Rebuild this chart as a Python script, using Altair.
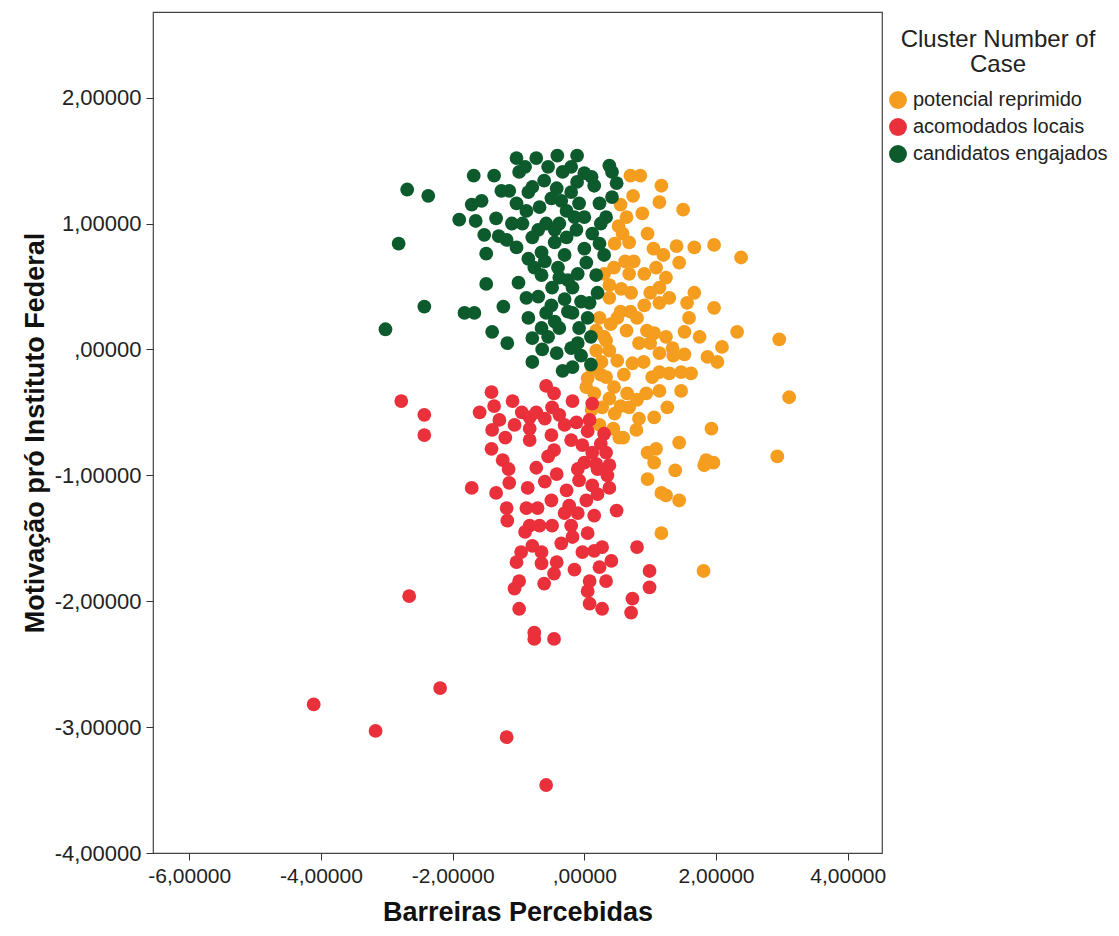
import altair as alt
import pandas as pd

clusters = ["potencial reprimido", "acomodados locais", "candidatos engajados"]
colors = ["#f59d1e", "#e9303b", "#0d5b2c"]

# potencial reprimido (orange)
orange_pts = [
    (0.70,1.38),(0.85,1.38),(1.17,1.30),(1.14,1.17),(1.50,1.11),(0.74,1.22),(0.88,1.08),(0.96,0.92),
    (0.64,1.05),(0.58,0.92),(0.68,0.85),(0.46,0.84),(1.40,0.82),(1.67,0.81),(1.97,0.83),(2.38,0.73),
    (1.44,0.69),(0.68,0.60),(0.91,0.60),(1.09,0.65),(1.24,0.57),(1.14,0.49),(1.29,0.41),(1.14,0.37),
    (0.91,0.35),(0.38,0.51),(0.56,0.48),(0.71,0.45),(0.38,0.41),(1.67,0.45),(1.56,0.37),(1.97,0.33),
    (1.59,0.25),(1.52,0.14),(2.32,0.14),(2.96,0.08),(2.09,0.02),(1.87,-0.06),(2.02,-0.10),(1.52,-0.04),
    (1.06,0.13),(1.24,0.10),(1.34,0.01),(1.14,-0.03),(0.83,0.05),(0.64,0.15),(0.50,0.25),(0.23,0.25),
    (0.18,0.15),(0.33,0.07),(0.18,-0.01),(0.38,-0.01),(0.50,-0.09),(0.73,-0.11),(0.33,-0.22),(0.05,-0.23),
    (0.03,-0.30),(0.26,-0.10),(1.14,-0.18),(1.29,-0.19),(1.47,-0.18),(1.62,-0.19),(1.03,-0.22),(1.47,-0.33),
    (0.65,-0.35),(0.94,-0.35),(1.14,-0.33),(0.38,-0.39),(0.68,-0.46),(0.46,-0.51),(0.83,-0.55),(1.06,-0.54),
    (1.26,-0.46),(0.79,-0.64),(0.53,-0.70),(1.09,-0.79),(1.44,-0.74),(1.93,-0.63),(1.85,-0.88),(2.93,-0.85),
    (3.11,-0.38),(0.27,-0.46),(0.96,-0.82),(1.06,-0.90),(1.38,-0.96),(1.82,-0.92),(1.96,-0.90),(1.17,-1.14),
    (1.24,-1.16),(1.44,-1.20),(0.96,-1.03),(1.17,-1.46),(1.81,-1.76),(0.23,-0.60),(0.44,-0.63),(0.59,-0.70),
    (0.11,-0.48),(0.45,0.65),(0.55,0.30),(0.80,0.25),(1.00,0.45),(0.30,0.10),(0.60,-0.20),(0.90,-0.10),
    (1.00,0.05),(0.15,-0.35),(0.45,-0.30),(0.80,-0.40),(0.55,1.15),(0.75,0.70),(1.20,0.75),(0.30,0.60),
    (1.35,-0.05),(1.75,0.10),(0.12,-0.15),(0.62,0.70),(1.05,0.80),(0.52,0.98),(0.40,0.20),(0.70,0.30),
    (0.95,0.15),(0.25,-0.20),(0.55,-0.45),
]

# acomodados locais (red)
red_pts = [
    (-2.43,-0.52),(-2.43,-0.68),(-2.78,-0.41),(-1.41,-0.34),(-1.09,-0.41),(-1.59,-0.50),(-1.37,-0.45),
    (-1.29,-0.56),(-1.40,-0.64),(-1.06,-0.60),(-0.83,-0.54),(-0.73,-0.50),(-0.58,-0.29),(-0.46,-0.35),
    (-0.18,-0.41),(-0.49,-0.46),(-0.38,-0.52),(-0.83,-0.63),(-0.83,-0.72),(-0.50,-0.68),(-0.20,-0.72),
    (-0.12,-0.58),(0.08,-0.56),(0.12,-0.43),(0.30,-0.67),(-0.03,-0.76),(0.12,-0.82),(0.33,-0.82),
    (0.18,-0.91),(0.38,-0.92),(-1.41,-0.79),(-1.24,-0.88),(-0.73,-0.94),(-0.46,-0.80),(-0.42,-0.99),
    (-1.71,-1.10),(-1.34,-1.14),(-1.14,-1.06),(-0.86,-1.10),(-1.18,-1.26),(-1.17,-1.36),(-0.88,-1.26),
    (-0.71,-1.26),(-0.83,-1.40),(-0.68,-1.40),(-0.49,-1.40),(-0.27,-1.12),(-0.08,-1.04),(0.12,-1.08),
    (0.38,-1.10),(-0.23,-1.24),(0.03,-1.20),(0.15,-1.32),(0.49,-1.28),(-0.20,-1.40),(-0.18,-1.49),
    (0.05,-1.46),(-0.35,-1.54),(-0.03,-1.61),(-0.79,-1.56),(-0.96,-1.61),(-1.03,-1.69),(-0.65,-1.61),
    (-0.65,-1.70),(-0.42,-1.69),(-0.46,-1.78),(-0.61,-1.86),(0.27,-1.57),(0.41,-1.68),(0.23,-1.73),
    (0.33,-1.84),(0.08,-1.84),(0.05,-1.92),(0.08,-2.02),(0.27,-2.06),(-0.99,-1.84),(-1.06,-1.90),
    (-0.99,-2.06),(-0.76,-2.25),(-0.46,-2.30),(0.80,-1.57),(0.99,-1.76),(0.99,-1.89),(0.73,-1.98),
    (0.71,-2.09),(-2.66,-1.96),(-4.11,-2.82),(-3.17,-3.03),(-2.19,-2.69),(-1.18,-3.08),(-0.58,-3.46),
    (-0.76,-2.30),(0.25,-0.75),(0.20,-0.95),(0.35,-1.00),(0.00,-0.90),(-0.10,-0.95),(-0.30,-0.60),
    (-0.60,-0.55),(-0.95,-0.50),(-1.20,-0.70),(-0.60,-1.05),(-0.30,-1.30),(-0.10,-1.30),(0.20,-1.15),
    (-0.50,-1.20),(-0.90,-1.45),(-0.15,-1.75),(0.15,-1.60),(-1.15,-0.95),(-0.55,-0.85),(0.05,-0.65),
]

# candidatos engajados (green)
green_pts = [
    (-3.02,0.16),(-2.69,1.27),(-2.37,1.22),(-2.82,0.84),(-2.43,0.34),(-1.82,0.29),(-1.67,0.29),
    (-1.40,0.14),(-1.17,0.05),(-0.79,-0.10),(-1.49,0.52),(-1.49,0.76),(-1.52,0.91),(-1.68,1.38),
    (-1.37,1.38),(-1.90,1.03),(-1.65,1.02),(-1.71,1.15),(-1.56,1.18),(-1.23,0.34),(-1.00,0.53),
    (-0.88,0.41),(-0.79,0.09),(-0.64,0.00),(-0.33,-0.17),(-0.18,-0.14),(-1.03,1.52),(-0.73,1.52),
    (-0.41,1.54),(-0.11,1.54),(0.38,1.46),(0.11,1.37),(-0.11,1.33),(-1.26,1.26),(-1.34,1.04),
    (-1.18,0.87),(-1.03,0.81),(-0.65,0.77),(-0.76,0.65),(-0.65,0.59),(-0.38,0.57),(0.03,0.69),
    (0.18,0.59),(0.08,0.37),(-0.18,0.49),(-0.49,0.49),(-0.18,0.29),(-0.38,0.17),(-0.58,0.29),
    (-0.65,0.17),(-0.08,0.17),(-0.20,0.01),(-0.42,-0.03),(-0.58,1.00),(-0.38,1.00),(-0.27,1.10),
    (-0.08,1.16),(0.23,1.16),(0.33,1.05),(0.12,0.92),(0.23,0.84),(0.30,0.75),(0.42,1.21),(0.49,1.32),
    (0.42,1.41),(-0.68,1.13),(-0.88,1.10),(-1.03,1.16),(-0.79,1.29),(-0.61,1.34),(-0.42,1.28),
    (-0.33,1.41),(-0.99,1.41),(-1.14,1.26),(-0.94,1.00),(-0.79,0.89),(-0.27,0.89),(-0.12,0.95),
    (-0.50,1.20),(-0.20,1.25),(0.00,1.05),(-0.45,0.85),(-0.60,0.70),(-0.30,0.75),(-0.10,0.60),
    (-0.50,0.35),(-0.30,0.40),(0.05,0.25),(-0.10,0.05),(-0.55,0.10),(0.10,0.10),(-0.85,0.25),
    (0.15,1.30),(-0.90,1.45),(-0.20,1.45),(0.00,1.40),(0.25,1.00),(-1.10,1.00),(-0.70,0.95),
    (0.00,0.80),(-0.85,0.72),(-1.30,0.90),(0.20,0.45),(-0.40,0.65),(-0.05,-0.05),(0.10,-0.12),
    (-0.25,0.30),(-0.55,1.45),(-0.35,1.18),(-0.15,1.05),(-0.45,0.95),(-0.25,0.55),(-0.70,0.42),
    (-0.45,0.22),(-0.05,0.38),(-0.85,1.25),
]

x_ticks = [-6, -4, -2, 0, 2, 4]
y_ticks = [-4, -3, -2, -1, 0, 1, 2]

rows = []
for order, (name, pts) in enumerate(zip(clusters, [orange_pts, red_pts, green_pts])):
    for (x, y) in pts:
        rows.append({"bx": x, "my": y, "cluster": name, "ord": order})
df = pd.DataFrame(rows)

label_expr = ("(datum.value < 0 ? '-' : '') + (datum.value == 0 ? ',00000' : "
              "replace(format(abs(datum.value), '.5f'), '.', ','))")

chart = alt.Chart(df).mark_circle(size=190, opacity=1).encode(
    x=alt.X("bx:Q", title="Barreiras Percebidas",
            scale=alt.Scale(domain=[-6.55, 4.52], nice=False, zero=False),
            axis=alt.Axis(values=x_ticks, labelExpr=label_expr, grid=False, domain=False,
                          tickSize=7, tickColor="#333", labelPadding=5, labelFontSize=21,
                          labelFont="Liberation Sans", labelColor="#222",
                          titleFont="Liberation Sans", titleFontSize=27,
                          titleFontWeight="bold", titleColor="#111", titlePadding=13)),
    y=alt.Y("my:Q", title="Motivação pró Instituto Federal",
            scale=alt.Scale(domain=[-4.0, 2.68], nice=False, zero=False),
            axis=alt.Axis(values=y_ticks, labelExpr=label_expr, grid=False, domain=False,
                          tickSize=7, tickColor="#333", labelPadding=5, labelFontSize=22,
                          labelFont="Liberation Sans", labelColor="#222",
                          titleFont="Liberation Sans", titleFontSize=27,
                          titleFontWeight="bold", titleColor="#111", titlePadding=5)),
    color=alt.Color("cluster:N", scale=alt.Scale(domain=clusters, range=colors),
                    legend=alt.Legend(title=["Cluster Number of", "Case"], orient="none",
                                      legendX=735, legendY=16, symbolType="circle",
                                      symbolSize=320, symbolStrokeWidth=0, symbolOpacity=1,
                                      labelFontSize=20, labelFont="Liberation Sans",
                                      labelColor="#222", labelLimit=0, titleLimit=0,
                                      titleFontSize=24,
                                      titleFont="Liberation Sans", titleFontWeight="normal",
                                      titleColor="#222", titleAnchor="middle", titleAlign="center",
                                      titleLineHeight=25, titlePadding=13, rowPadding=7,
                                      labelOffset=5)),
    order=alt.Order("ord:Q"),
).properties(
    width=729, height=841,
    autosize=alt.AutoSizeParams(type="none"),
    padding={"left": 145, "top": 4, "right": 226, "bottom": 75},
).configure_view(stroke="#444", strokeWidth=1.2, fill="white")

chart.save("out.html", embed_options={"renderer": "svg", "actions": False})
